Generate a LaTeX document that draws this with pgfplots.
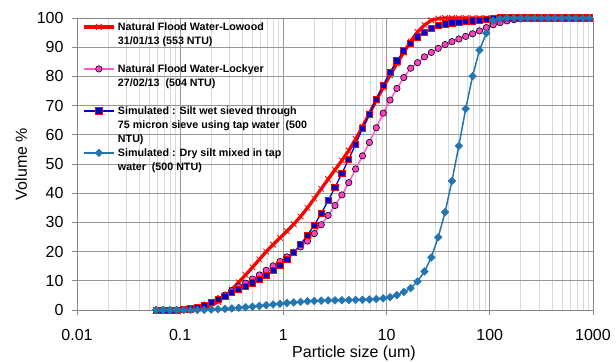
\documentclass[border=0pt]{standalone}
\usepackage{fontspec}
\setmainfont{Liberation Sans}
\usepackage{pgfplots}
\pgfplotsset{compat=1.18}
\usepackage{pgfplotstable}

\definecolor{cred}{RGB}{255,0,0}
\definecolor{cpink}{RGB}{255,64,200}
\definecolor{cpinkl}{RGB}{255,90,210}
\definecolor{cnavy}{RGB}{0,0,204}
\definecolor{csteel}{RGB}{36,118,178}
\definecolor{gmaj}{RGB}{150,150,150}
\definecolor{gmin}{RGB}{217,217,217}
\definecolor{gaxis}{RGB}{134,134,134}

\pgfplotstableread{
x red pink sq dia
0.058434 0 0 0 0
0.068129 0 0 0 0
0.079433 0 0 0 0
0.092611 0 0 0 0
0.10798 0 0.1 0.1 0
0.12589 0.1 0.4 0.4 0
0.14678 0.3 0.9 1.0 0
0.17113 0.7 1.7 1.7 0.05
0.19953 1.5 2.6 2.5 0.15
0.23263 2.8 3.8 3.7 0.25
0.27123 4.6 5.1 4.7 0.4
0.31623 7.0 6.6 5.9 0.55
0.36869 9.5 8.0 7.1 0.75
0.42987 12.0 9.2 8.2 0.95
0.50119 14.6 10.6 9.3 1.15
0.58434 17.3 12.0 10.5 1.4
0.68129 20.0 13.6 11.9 1.65
0.79433 22.4 15.1 13.5 1.9
0.92611 24.7 16.6 15.2 2.15
1.0798 27.0 18.2 17.2 2.4
1.2589 29.4 19.8 19.6 2.6
1.4678 32.0 21.6 22.5 2.8
1.7113 35.0 23.6 25.6 3.0
1.9953 38.2 26.2 29.1 3.1
2.3263 41.5 29.2 33.1 3.2
2.7123 44.8 32.4 37.4 3.3
3.1623 48.0 35.8 42.0 3.3
3.6869 51.2 39.4 46.8 3.35
4.2987 54.6 43.6 51.6 3.4
5.0119 58.5 48.3 56.8 3.45
5.8434 62.8 52.8 62.2 3.5
6.8129 67.3 57.4 67.1 3.6
7.9433 71.8 62.4 72.2 3.75
9.2611 76.2 67.4 76.9 4.0
10.798 80.4 71.9 81.5 4.4
12.589 84.4 75.9 85.3 5.1
14.678 88.2 79.6 88.7 6.2
17.113 92.0 82.8 91.3 7.5
19.953 95.2 84.7 93.5 9.8
23.263 97.6 86.7 95.2 13.2
27.123 99.2 88.2 96.5 18.0
31.623 99.8 89.6 97.4 24.9
36.869 100 90.9 98.0 33.5
42.987 100 91.9 98.3 44.2
50.119 100 92.8 98.5 56.2
58.434 100 93.7 98.8 68.9
68.129 100 94.6 99.0 80.1
79.433 100 95.6 99.2 89.0
92.611 100 96.7 99.4 94.8
107.98 100 97.7 99.7 99.1
125.89 100 98.4 100 99.8
146.78 100 99.0 100 100
171.13 100 99.4 100 100
199.53 100 99.7 100 100
232.63 100 99.9 100 100
271.23 100 100 100 100
316.23 100 100 100 100
368.69 100 100 100 100
429.87 100 100 100 100
501.19 100 100 100 100
584.34 100 100 100 100
681.29 100 100 100 100
794.33 100 100 100 100
926.11 100 100 100 100
}\data

\newcommand\lgd[1]{\raisebox{0pt}[8bp][0pt]{\bfseries\begin{tabular}[t]{@{}l@{}}#1\end{tabular}}}

\begin{document}
\begin{tikzpicture}
\begin{axis}[
  scale only axis, width=516bp, height=292bp,
  xmode=log, xmin=0.01, xmax=1000, ymin=0, ymax=100,
  xtick={0.01,0.1,1,10,100,1000},
  xticklabels={0.01,0.1,1,10,100,1000},
  ytick={0,10,...,100},
  grid=both,
  major grid style={draw=gmaj, line width=0.75bp},
  minor grid style={draw=gmin, line width=0.75bp},
  axis line style={draw=gaxis, line width=0.75bp},
  tick style={draw=gaxis, line width=0.75bp},
  tick align=outside, tick pos=left,
  major tick length=5bp, minor tick length=0pt,
  /pgf/number format/assume math mode=true,
  tick label style={font=\fontsize{16bp}{19bp}\selectfont, text=black},
  xticklabel style={yshift=-11bp},
  yticklabel style={xshift=-5bp},
  label style={font=\fontsize{16bp}{19bp}\selectfont, text=black},
  xlabel={Particle size (um)},
  ylabel={Volume \%},
  xlabel style={at={(axis description cs:0.5,0)}, anchor=base, yshift=-47.5bp, xshift=19bp},
  ylabel style={at={(axis description cs:-0.0969,0.5)}, anchor=base, rotate=0},
  clip=false,
  legend cell align=left,
  legend style={at={(rel axis cs:0,1)}, anchor=north west, xshift=5bp, yshift=-4.7bp,
    draw=none, fill=none, inner sep=0pt, row sep=34bp, column sep=2.5bp,
    nodes={inner sep=0pt, text depth=},
    font=\bfseries\fontsize{10.7bp}{14bp}\selectfont},
  legend image code/.code={\draw[mark repeat=2,mark phase=2,#1] plot coordinates {(0bp,0bp) (15bp,0bp) (30bp,0bp)};},
]
\coordinate (BL) at (rel axis cs:0,0);
\coordinate (TR) at (rel axis cs:1,1);

\addplot[draw=cred, line width=3.3bp, mark=x, mark size=4bp, mark options={solid, draw=cred, line width=0.8bp}]
  table[x=x, y=red] {\data};
\addlegendentry{\lgd{Natural Flood Water-Lowood\\31/01/13 (553 NTU)}}

\addplot[draw=cpinkl, line width=1.5bp, mark=*, mark size=3.2bp, mark options={solid, fill=cpink, draw=black, line width=0.6bp}]
  table[x=x, y=pink] {\data};
\addlegendentry{\lgd{Natural Flood Water-Lockyer\\27/02/13\ \ (504 NTU)}}

\addplot[draw=cnavy, line width=1.3bp, mark=square*, mark size=3.1bp, mark options={solid, fill=cnavy, draw=cred, line width=0.8bp}]
  table[x=x, y=sq] {\data};
\addlegendentry{\lgd{Simulated : Silt wet sieved through\\75 micron sieve using tap water\ \ (500\\NTU)}}

\addplot[draw=csteel, line width=1.5bp, mark=square*, mark size=2.7bp, mark options={solid, rotate=45, fill=csteel, draw=csteel, line width=0.5bp}]
  table[x=x, y=dia] {\data};
\addlegendentry{\lgd{Simulated : Dry silt mixed in tap\\water\ \ (500 NTU)}}
\end{axis}
\pgfresetboundingbox
\path ([shift={(-77bp,-53bp)}]BL) rectangle ([shift={(23bp,18bp)}]TR);
\end{tikzpicture}
\end{document}
